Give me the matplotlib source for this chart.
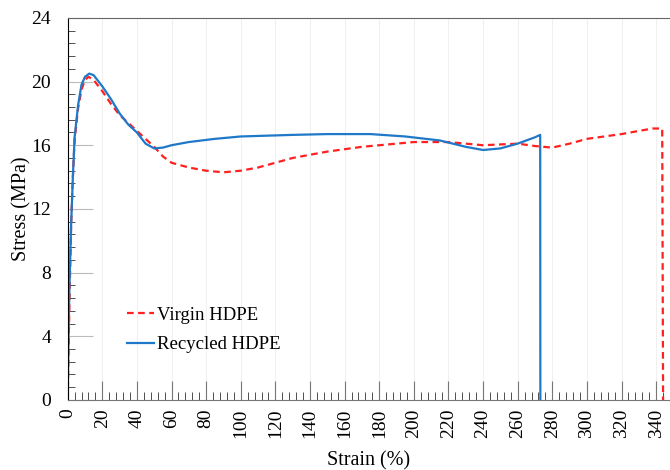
import numpy as np
import matplotlib.pyplot as plt
from matplotlib.ticker import MultipleLocator

plt.rcParams['font.family'] = ['Liberation Serif', 'DejaVu Serif']

# Virgin HDPE (red dashed)
virgin_strain = [0, 1, 2, 3, 4, 6, 8, 10, 12, 15, 20, 25, 30, 35, 40, 45, 50, 55, 60,
                 70, 80, 90, 100, 110, 120, 130, 140, 150, 160, 170, 180, 190, 200,
                 210, 220, 230, 240, 250, 260, 270, 280, 290, 300, 310, 320, 330,
                 338, 343.5, 344]
virgin_stress = [0, 6, 11, 14, 16.3, 18.3, 19.5, 20.1, 20.3, 20.1, 19.4, 18.6, 17.9,
                 17.4, 16.9, 16.4, 15.9, 15.3, 14.9, 14.6, 14.4, 14.3, 14.4, 14.6, 14.9,
                 15.2, 15.4, 15.6, 15.75, 15.9, 16.0, 16.1, 16.2, 16.2, 16.2, 16.1, 16.0,
                 16.05, 16.1, 15.95, 15.85, 16.1, 16.4, 16.55, 16.7, 16.9, 17.05, 17.05, 0]

# Recycled HDPE (blue solid)
recycled_strain = [0, 0.5, 1, 2, 3, 4, 6, 8, 10, 12.5, 15, 20, 25, 30, 35, 40, 45, 50,
                   55, 60, 70, 85, 100, 130, 150, 175, 195, 215, 230, 240, 250, 260,
                   270, 273, 273.1]
recycled_stress = [0, 4, 7, 11, 14, 16.5, 18.5, 19.8, 20.3, 20.5, 20.4, 19.7, 18.9,
                   18.0, 17.3, 16.8, 16.1, 15.8, 15.85, 16.0, 16.2, 16.4, 16.55, 16.65,
                   16.7, 16.7, 16.55, 16.3, 15.9, 15.7, 15.8, 16.1, 16.5, 16.65, 0]

fig = plt.figure(figsize=(6.7, 4.7), dpi=100)
ax = fig.add_axes([0.101, 0.149, 0.899, 0.813])

ax.plot(virgin_strain, virgin_stress, color='#FF2020', ls=(0, (3, 2)), lw=1.6,
        label='Virgin HDPE')
ax.plot(recycled_strain, recycled_stress, color='#1F78C8', lw=1.6,
        label='Recycled HDPE')

ax.set_xlim(0, 348)
ax.set_ylim(0, 24)
ax.xaxis.set_major_locator(MultipleLocator(20))
ax.xaxis.set_minor_locator(MultipleLocator(4))
ax.yaxis.set_major_locator(MultipleLocator(4))
ax.yaxis.set_minor_locator(MultipleLocator(0.8))
ax.grid(axis='x', which='major', color='#f0f0f0', lw=0.8)

ax.tick_params(axis='x', which='major', direction='in', length=14, color='#777777',
               labelsize=14, labelrotation=90, pad=6)
ax.tick_params(axis='x', which='minor', direction='in', length=6, color='#333333')
ax.tick_params(axis='y', which='major', direction='in', length=18, color='#bbbbbb',
               labelsize=14, pad=12)
ax.tick_params(axis='y', which='minor', direction='in', length=5, color='#333333')

ax.spines['right'].set_visible(False)
ax.spines['top'].set_color('#666666')
ax.spines['bottom'].set_color('#777777')
ax.spines['left'].set_color('black')

ax.set_xlabel('Strain (%)', fontsize=14.5, labelpad=10)
ax.set_ylabel('Stress (MPa)', fontsize=14.5, labelpad=0)

ax.legend(loc='upper left', bbox_to_anchor=(0.098, 0.244), frameon=False,
          fontsize=13.5, borderaxespad=0, borderpad=0,
          handlelength=1.45, handletextpad=0.15, labelspacing=0.65)

fig.savefig('out.png', dpi=100)
